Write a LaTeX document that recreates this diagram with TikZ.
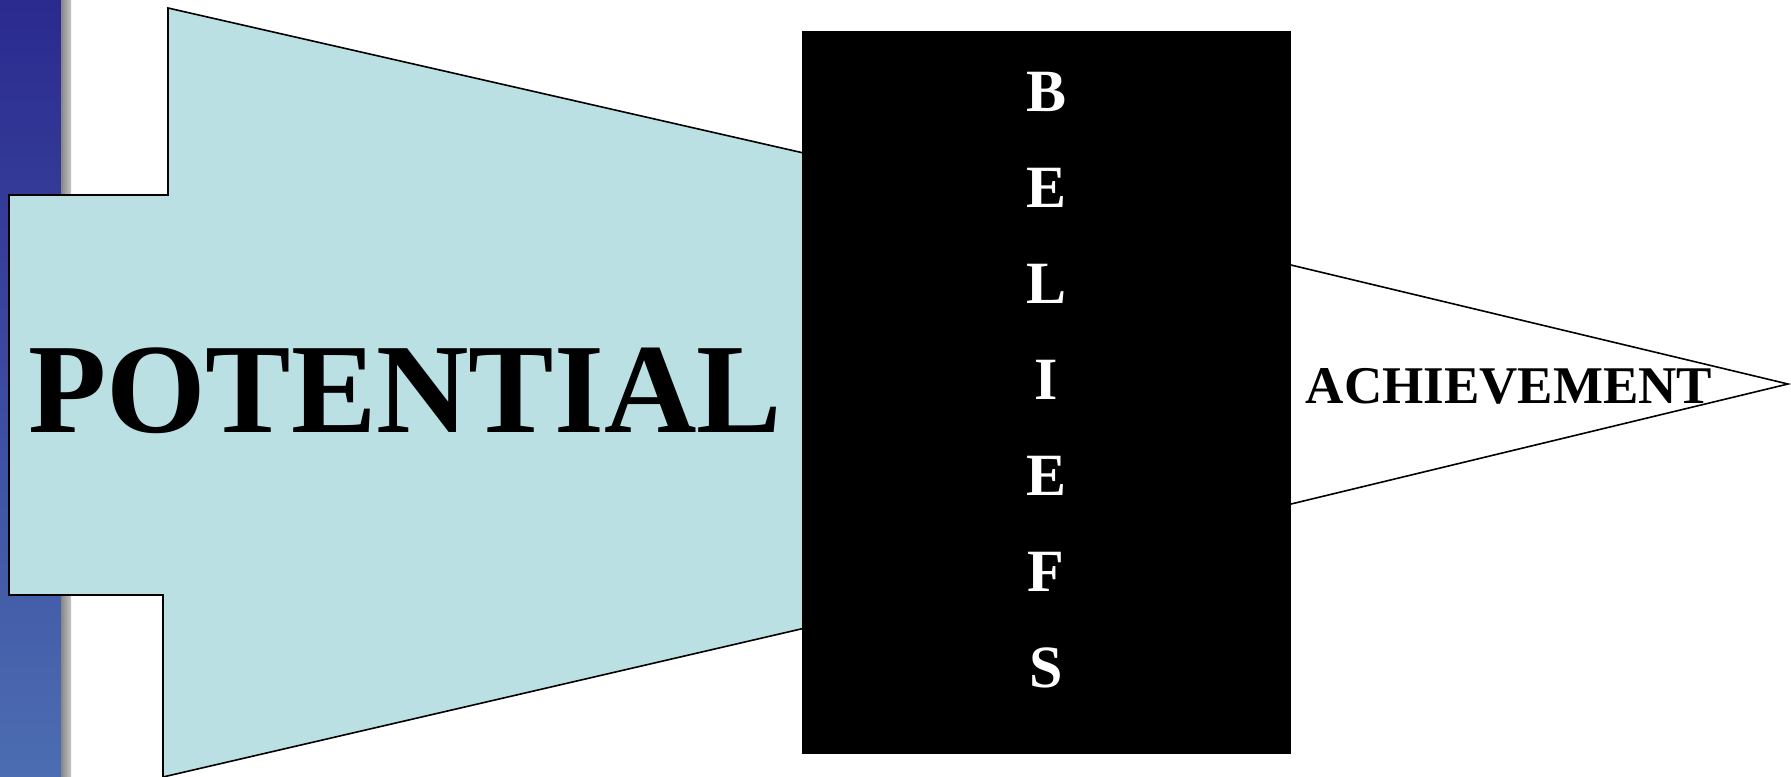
\documentclass[tikz,border=0pt]{standalone}
\usepackage{fontspec}
\setmainfont{Liberation Serif}
\definecolor{potfill}{HTML}{BBE0E3}
\definecolor{bartop}{HTML}{2B2A8F}
\definecolor{barbot}{HTML}{4C6DB1}
\tikzset{
  outline/.style={draw=black, line width=1.6bp, line join=miter},
  beliefletter/.style={text=white, font=\fontsize{60bp}{60bp}\selectfont\bfseries, anchor=base, inner sep=0pt}
}
\begin{document}
\begin{tikzpicture}[x=1bp,y=-1bp]
\useasboundingbox (0,0) rectangle (1791,777);
% left decorative bar
\shade[top color=bartop, bottom color=barbot] (0,0) rectangle (61,777);
\shade[left color=gray!95, right color=gray!45] (61,0) rectangle (71,777);
% potential arrow shape
\path[outline, fill=potfill] (9,195) -- (168,195) -- (168,8) -- (900,175) -- (900,606) -- (163,777) -- (163,595) -- (9,595) -- cycle;
% achievement triangle
\path[outline, fill=white] (1260,257.6) -- (1788,384) -- (1260,511.5) -- cycle;
% beliefs box
\fill[black] (802,31) rectangle (1291,754);
% texts
\node[anchor=base, inner sep=0pt, font=\fontsize{128bp}{128bp}\selectfont\bfseries] (potential) at (405,432) {POTENTIAL};
\node[anchor=base, inner sep=0pt, font=\fontsize{53bp}{53bp}\selectfont\bfseries] (achievement) at (1509,403) {ACHIEVEMENT};
\node[beliefletter] (b1) at (1046,111) {B};
\node[beliefletter] (b2) at (1046,207) {E};
\node[beliefletter] (b3) at (1046,303) {L};
\node[beliefletter] (b4) at (1046,399) {I};
\node[beliefletter] (b5) at (1046,495) {E};
\node[beliefletter] (b6) at (1046,591) {F};
\node[beliefletter] (b7) at (1046,687) {S};
\end{tikzpicture}
\end{document}
